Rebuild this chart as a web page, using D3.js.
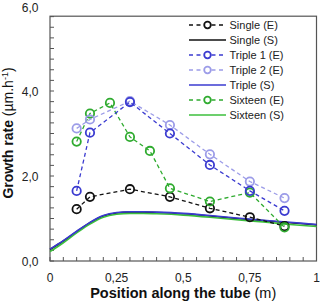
<!DOCTYPE html>
<html>
<head>
<meta charset="utf-8">
<script src="https://cdn.jsdelivr.net/npm/d3@7"></script>
<style>
  body { margin: 0; background: #fff; }
  svg text { font-family: "Liberation Sans", Arial, sans-serif; }
</style>
</head>
<body>
<svg id="chart" width="322" height="303"></svg>
<script>
// measured positions along the tube (m)
const posE = [0.1, 0.15, 0.3, 0.45, 0.6, 0.75, 0.88]
const posSixteen = [0.1, 0.15, 0.225, 0.3, 0.375, 0.45, 0.6, 0.75, 0.88]
const posS = [0, 0.05, 0.1, 0.15, 0.2, 0.25, 0.3, 0.35, 0.4, 0.5, 0.6, 0.7, 0.8, 0.9, 1.0]

// experimental growth rates
const singleE  = [1.22, 1.51, 1.69, 1.51, 1.24, 1.03, 0.82]
const triple1E = [1.65, 3.02, 3.74, 3.00, 2.26, 1.65, 1.18]
const triple2E = [3.12, 3.33, 3.76, 3.20, 2.51, 1.87, 1.48]
const sixteenE = [2.81, 3.47, 3.72, 2.92, 2.59, 1.71, 1.40, 1.61, 0.79]

// simulated growth rates
const singleS  = [0.27, 0.47, 0.69, 0.90, 1.06, 1.13, 1.15, 1.15, 1.14, 1.11, 1.06, 1.00, 0.95, 0.90, 0.85]
const tripleS  = [0.28, 0.48, 0.70, 0.91, 1.07, 1.14, 1.16, 1.16, 1.15, 1.12, 1.07, 1.01, 0.96, 0.91, 0.86]
const sixteenS = [0.22, 0.43, 0.66, 0.87, 1.03, 1.10, 1.12, 1.12, 1.11, 1.08, 1.03, 0.97, 0.92, 0.86, 0.81]

const xTicks = [0, 0.25, 0.5, 0.75, 1]
const yTicks = [0, 2, 4, 6]

const series = [
    { name: 'Single (E)',   x: posE,       y: singleE,  color: '#111111', dashed: true },
    { name: 'Single (S)',   x: posS,       y: singleS,  color: '#111111', dashed: false },
    { name: 'Triple 1 (E)', x: posE,       y: triple1E, color: '#3b3bd0', dashed: true },
    { name: 'Triple 2 (E)', x: posE,       y: triple2E, color: '#9c9ce8', dashed: true },
    { name: 'Triple (S)',   x: posS,       y: tripleS,  color: '#3b3bd0', dashed: false },
    { name: 'Sixteen (E)',  x: posSixteen, y: sixteenE, color: '#2fab2f', dashed: true },
    { name: 'Sixteen (S)',  x: posS,       y: sixteenS, color: '#3cbf3c', dashed: false }
]

const svg = d3.select('#chart')
const plotLeft = 50, plotRight = 316.5, plotBottom = 261

const x = d3.scaleLinear().domain([0, 1]).range([plotLeft, plotRight])
const y = d3.scaleLinear().domain([0, 6]).range([plotBottom, 6])
const plotTop = y(5.76)

const fmt = d => d3.format('.1f')(d).replace('.', ',')
const fmtX = d => (d === 0 || d === 1) ? String(d) : String(d).replace('.', ',')

// frame
svg.append('rect')
    .attr('x', plotLeft).attr('y', plotTop)
    .attr('width', plotRight - plotLeft).attr('height', plotBottom - plotTop)
    .attr('fill', 'none').attr('stroke', '#555').attr('stroke-width', 1.2)

// inward ticks
const xMinor = d3.range(0, 1.0001, 0.05)
svg.append('g').selectAll('line').data(xMinor).join('line')
    .attr('x1', d => x(d)).attr('x2', d => x(d))
    .attr('y1', plotBottom).attr('y2', plotBottom - 4)
    .attr('stroke', '#555').attr('stroke-width', 1)

const yMinor = d3.range(0, 5.76, 0.25)
svg.append('g').selectAll('line').data(yMinor).join('line')
    .attr('x1', plotLeft).attr('x2', plotLeft + 4)
    .attr('y1', d => y(d)).attr('y2', d => y(d))
    .attr('stroke', '#555').attr('stroke-width', 1)

svg.append('g').selectAll('text').data(xTicks).join('text')
    .attr('x', d => x(d)).attr('y', 282)
    .attr('text-anchor', 'middle')
    .attr('font-size', 12).attr('fill', '#222')
    .text(fmtX)

// the top label sits a little lower than its tick so it stays inside the page
svg.append('g').selectAll('text').data(yTicks).join('text')
    .attr('x', 38.5).attr('y', d => d === 6 ? y(d) + 5.5 : y(d) + 4.5)
    .attr('text-anchor', 'end')
    .attr('font-size', 12).attr('fill', '#222')
    .text(fmt)

// axis titles
const xTitle = svg.append('text')
    .attr('x', (plotLeft + plotRight) / 2).attr('y', 298)
    .attr('text-anchor', 'middle').attr('font-size', 14.5).attr('fill', '#111')
xTitle.append('tspan').attr('font-weight', 'bold').text('Position along the tube')
xTitle.append('tspan').text(' (m)')

const yTitle = svg.append('text')
    .attr('transform', 'translate(12.5,133) rotate(-90)')
    .attr('text-anchor', 'middle').attr('font-size', 14).attr('fill', '#111')
yTitle.append('tspan').attr('font-weight', 'bold').text('Growth rate')
yTitle.append('tspan').text(' (µm.h')
yTitle.append('tspan').attr('font-size', 9).attr('dy', -5).text('-1')
yTitle.append('tspan').attr('dy', 5).text(')')

// series
const line = d3.line().x(d => x(d[0])).y(d => y(d[1]))
const lineSmooth = d3.line().x(d => x(d[0])).y(d => y(d[1])).curve(d3.curveMonotoneX)

const plot = svg.append('g')
// simulations first, experiments on top
const drawOrder = [1, 6, 4, 0, 5, 3, 2]
drawOrder.forEach(i => {
    const s = series[i]
    const pts = s.x.map((v, k) => [v, s.y[k]])
    plot.append('path')
        .attr('d', s.dashed ? line(pts) : lineSmooth(pts))
        .attr('fill', 'none')
        .attr('stroke', s.color)
        .attr('stroke-width', s.dashed ? 1.3 : 1.6)
        .attr('stroke-dasharray', s.dashed ? '4,3' : null)
    if (s.dashed) {
        plot.append('g').selectAll('circle').data(pts).join('circle')
            .attr('cx', d => x(d[0])).attr('cy', d => y(d[1]))
            .attr('r', 4.2)
            .attr('fill', 'none')
            .attr('stroke', s.color)
            .attr('stroke-width', 1.8)
    }
})

// legend
const legend = svg.append('g')
series.forEach((s, i) => {
    const ly = 25 + i * 15
    legend.append('line')
        .attr('x1', 189).attr('x2', 226)
        .attr('y1', ly).attr('y2', ly)
        .attr('stroke', s.color)
        .attr('stroke-width', s.dashed ? 1.3 : 1.4)
        .attr('stroke-dasharray', s.dashed ? '4,3.5' : null)
    if (s.dashed) {
        legend.append('circle')
            .attr('cx', 207.5).attr('cy', ly).attr('r', 3.3)
            .attr('fill', '#fff').attr('stroke', s.color).attr('stroke-width', 1.8)
    }
    legend.append('text')
        .attr('x', 229.5).attr('y', ly + 4)
        .attr('font-size', 11).attr('fill', '#222')
        .text(s.name)
})
</script>
</body>
</html>
